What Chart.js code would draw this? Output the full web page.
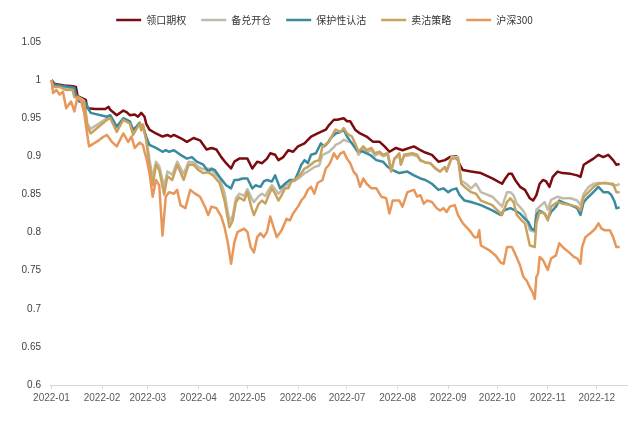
<!DOCTYPE html>
<html lang="zh-CN">
<head>
<meta charset="utf-8">
<title>期权策略净值走势</title>
<script src="https://cdn.jsdelivr.net/npm/chart.js@4.4.1/dist/chart.umd.min.js"></script>
<style>
  html, body { margin: 0; padding: 0; background: #fff; }
  #wrap { width: 637px; height: 421px; }
</style>
</head>
<body>
<div id="wrap"><canvas id="navChart" width="637" height="421"></canvas></div>
<script>
// 横轴按自然日计，第 0 天 = 首个交易日
const monthLabels = ['2022-01', '2022-02', '2022-03', '2022-04', '2022-05', '2022-06',
                     '2022-07', '2022-08', '2022-09', '2022-10', '2022-11', '2022-12'];
const monthDays = [0, 31, 59, 90, 120, 151, 181, 212, 243, 273, 304, 334];

// 各策略净值 [天, 净值]
const collar = [[0,1.000],[2,0.995],[8,0.993],[13,0.992],[15,0.991],[16,0.979],[18,0.977],[21,0.974],[22,0.963],[27,0.962],
  [33,0.962],[35,0.965],[36,0.961],[40,0.954],[44,0.960],[46,0.958],[48,0.954],[51,0.955],[53,0.952],[55,0.957],
  [57,0.952],[58,0.943],[60,0.935],[64,0.930],[68,0.926],[71,0.928],[73,0.926],[75,0.928],[79,0.924],[83,0.919],
  [87,0.924],[91,0.921],[95,0.909],[98,0.911],[101,0.909],[104,0.899],[107,0.891],[110,0.884],[112,0.893],[115,0.897],
  [120,0.897],[123,0.884],[126,0.893],[129,0.891],[132,0.897],[134,0.904],[137,0.902],[139,0.895],[142,0.899],[145,0.908],
  [148,0.906],[151,0.913],[155,0.917],[159,0.926],[163,0.930],[168,0.935],[170,0.941],[173,0.948],[175,0.948],[179,0.950],
  [181,0.946],[183,0.946],[186,0.935],[189,0.930],[193,0.926],[197,0.919],[201,0.919],[204,0.913],[207,0.906],[211,0.911],
  [215,0.908],[222,0.913],[226,0.908],[229,0.905],[233,0.902],[237,0.893],[241,0.895],[244,0.899],[248,0.900],[250,0.889],
  [252,0.882],[257,0.880],[263,0.878],[270,0.871],[276,0.864],[278,0.871],[280,0.877],[282,0.877],[284,0.869],[287,0.860],
  [290,0.856],[293,0.845],[295,0.842],[297,0.849],[299,0.864],[301,0.869],[303,0.867],[305,0.860],[307,0.873],[310,0.880],
  [313,0.878],[318,0.877],[322,0.875],[324,0.873],[326,0.889],[329,0.893],[332,0.897],[335,0.902],[338,0.899],[341,0.902],
  [344,0.895],[346,0.889],[348,0.890]];

const coveredCall = [[0,1.000],[1,0.993],[5,0.992],[9,0.989],[13,0.988],[14,0.980],[18,0.976],[20,0.973],[22,0.943],[24,0.936],
  [34,0.950],[36,0.951],[40,0.936],[44,0.949],[48,0.944],[50,0.932],[54,0.944],[55,0.937],[56,0.942],[58,0.924],
  [60,0.896],[62,0.872],[64,0.893],[66,0.887],[69,0.860],[71,0.880],[74,0.876],[77,0.893],[79,0.885],[81,0.877],
  [84,0.893],[87,0.892],[90,0.886],[93,0.883],[96,0.884],[99,0.880],[103,0.871],[106,0.852],[109,0.815],[111,0.822],
  [113,0.845],[115,0.851],[118,0.848],[120,0.857],[123,0.843],[124,0.840],[127,0.848],[129,0.851],[131,0.848],[133,0.856],
  [135,0.862],[137,0.857],[139,0.851],[141,0.855],[143,0.862],[145,0.862],[147,0.867],[149,0.868],[152,0.872],[155,0.878],
  [157,0.880],[161,0.886],[164,0.888],[166,0.902],[170,0.906],[173,0.912],[174,0.915],[177,0.918],[179,0.922],[181,0.920],
  [184,0.918],[186,0.912],[188,0.902],[191,0.909],[193,0.905],[196,0.908],[198,0.901],[201,0.904],[203,0.900],[206,0.902],
  [208,0.882],[210,0.896],[213,0.902],[214,0.890],[216,0.900],[221,0.902],[224,0.900],[226,0.894],[229,0.892],[232,0.891],
  [235,0.885],[238,0.880],[241,0.886],[242,0.881],[245,0.899],[249,0.899],[251,0.868],[254,0.864],[257,0.858],[260,0.864],
  [263,0.853],[270,0.847],[276,0.834],[279,0.853],[281,0.853],[283,0.849],[285,0.838],[288,0.831],[290,0.825],[293,0.803],
  [296,0.801],[297,0.830],[299,0.834],[302,0.840],[304,0.830],[306,0.843],[310,0.847],[313,0.845],[318,0.845],[322,0.842],
  [324,0.836],[326,0.851],[329,0.860],[332,0.864],[335,0.865],[339,0.865],[342,0.864],[344,0.862],[346,0.862],[348,0.864]];

const protectivePut = [[0,1.000],[2,0.994],[8,0.992],[14,0.990],[15,0.981],[17,0.972],[21,0.970],[23,0.961],[24,0.957],[34,0.952],
  [36,0.954],[40,0.939],[44,0.950],[48,0.946],[50,0.935],[52,0.939],[54,0.944],[55,0.938],[56,0.939],[58,0.926],
  [60,0.915],[64,0.911],[68,0.906],[70,0.908],[72,0.906],[75,0.908],[79,0.902],[83,0.897],[86,0.899],[89,0.893],
  [93,0.889],[96,0.880],[98,0.884],[100,0.882],[103,0.873],[107,0.862],[110,0.858],[112,0.869],[114,0.869],[117,0.871],
  [120,0.871],[123,0.858],[125,0.862],[128,0.860],[130,0.867],[132,0.869],[135,0.867],[137,0.875],[140,0.858],[143,0.864],
  [146,0.869],[149,0.869],[151,0.878],[153,0.889],[155,0.895],[157,0.891],[159,0.902],[162,0.904],[165,0.917],[167,0.913],
  [169,0.917],[171,0.924],[174,0.930],[177,0.932],[179,0.935],[181,0.926],[184,0.917],[187,0.908],[191,0.906],[195,0.902],
  [199,0.895],[203,0.893],[206,0.886],[209,0.882],[213,0.878],[218,0.880],[222,0.875],[226,0.871],[229,0.869],[233,0.864],
  [237,0.856],[240,0.858],[243,0.853],[245,0.856],[248,0.858],[250,0.849],[253,0.842],[257,0.840],[263,0.836],[270,0.829],
  [275,0.823],[277,0.829],[281,0.832],[284,0.829],[287,0.825],[290,0.818],[292,0.814],[294,0.805],[296,0.803],[297,0.823],
  [299,0.829],[302,0.825],[304,0.818],[306,0.827],[309,0.834],[311,0.842],[313,0.840],[318,0.836],[322,0.832],[324,0.823],
  [326,0.840],[328,0.845],[331,0.851],[335,0.860],[338,0.853],[341,0.853],[343,0.849],[345,0.840],[346,0.832],[348,0.833]];

const shortPut = [[0,1.000],[1,0.991],[5,0.991],[9,0.987],[13,0.987],[14,0.978],[18,0.974],[20,0.971],[22,0.939],[24,0.930],
  [34,0.948],[36,0.950],[40,0.932],[44,0.948],[48,0.943],[50,0.928],[54,0.943],[55,0.934],[56,0.941],[58,0.921],
  [60,0.889],[62,0.862],[64,0.889],[66,0.882],[69,0.850],[71,0.874],[74,0.869],[77,0.889],[79,0.879],[81,0.869],
  [84,0.889],[87,0.889],[90,0.882],[93,0.878],[96,0.879],[99,0.875],[103,0.865],[106,0.842],[109,0.807],[111,0.816],
  [113,0.840],[115,0.846],[118,0.842],[120,0.853],[123,0.829],[124,0.823],[127,0.838],[129,0.842],[131,0.838],[133,0.849],
  [135,0.858],[137,0.851],[139,0.842],[141,0.849],[143,0.858],[145,0.858],[147,0.867],[149,0.869],[152,0.875],[155,0.884],
  [157,0.886],[161,0.893],[164,0.895],[166,0.913],[170,0.919],[173,0.932],[174,0.935],[177,0.932],[179,0.937],[181,0.930],
  [184,0.926],[186,0.917],[188,0.906],[191,0.913],[193,0.908],[196,0.911],[198,0.904],[201,0.906],[203,0.902],[206,0.904],
  [208,0.880],[210,0.897],[213,0.904],[214,0.889],[216,0.902],[221,0.904],[224,0.902],[226,0.895],[229,0.892],[232,0.891],
  [235,0.884],[238,0.880],[241,0.886],[242,0.880],[245,0.897],[249,0.897],[251,0.864],[254,0.858],[257,0.853],[260,0.851],
  [263,0.842],[270,0.836],[276,0.823],[279,0.840],[281,0.845],[283,0.840],[285,0.823],[288,0.816],[290,0.812],[293,0.783],
  [296,0.781],[297,0.812],[299,0.827],[302,0.825],[304,0.816],[306,0.834],[310,0.840],[313,0.838],[318,0.836],[322,0.834],
  [324,0.829],[326,0.847],[329,0.853],[332,0.860],[335,0.864],[339,0.865],[342,0.864],[344,0.864],[346,0.853],[348,0.853]];

const csi300 = [[0,1.000],[1,0.983],[3,0.987],[5,0.981],[7,0.985],[9,0.963],[12,0.972],[14,0.959],[16,0.978],[18,0.974],
  [20,0.957],[23,0.913],[26,0.917],[29,0.921],[32,0.926],[34,0.928],[37,0.919],[40,0.913],[44,0.930],[47,0.919],
  [49,0.926],[51,0.911],[54,0.918],[56,0.915],[57,0.906],[58,0.899],[60,0.878],[62,0.847],[64,0.869],[66,0.862],
  [68,0.796],[70,0.847],[72,0.853],[75,0.851],[77,0.856],[79,0.836],[82,0.832],[85,0.856],[88,0.851],[91,0.847],
  [94,0.834],[96,0.823],[98,0.834],[101,0.832],[104,0.821],[106,0.807],[108,0.787],[110,0.759],[112,0.787],[114,0.801],
  [118,0.805],[120,0.801],[122,0.781],[124,0.774],[126,0.794],[128,0.799],[130,0.794],[132,0.801],[134,0.821],[136,0.807],
  [138,0.794],[141,0.803],[144,0.818],[146,0.816],[148,0.825],[151,0.834],[153,0.842],[155,0.847],[157,0.856],[159,0.860],
  [161,0.851],[163,0.865],[166,0.869],[168,0.884],[170,0.889],[171,0.893],[173,0.904],[175,0.897],[177,0.904],[179,0.906],
  [181,0.897],[183,0.891],[185,0.880],[187,0.875],[189,0.860],[191,0.871],[193,0.864],[196,0.858],[199,0.858],[202,0.847],
  [205,0.845],[207,0.825],[209,0.842],[213,0.842],[215,0.834],[218,0.853],[222,0.856],[224,0.847],[226,0.849],[228,0.838],
  [230,0.842],[233,0.840],[236,0.832],[238,0.829],[240,0.832],[242,0.827],[244,0.834],[247,0.836],[249,0.823],[252,0.812],
  [256,0.803],[259,0.794],[261,0.794],[262,0.803],[263,0.783],[268,0.777],[272,0.770],[275,0.761],[277,0.759],[279,0.781],
  [282,0.781],[284,0.772],[287,0.757],[289,0.742],[291,0.737],[293,0.728],[295,0.720],[296,0.713],[297,0.742],[298,0.746],
  [299,0.768],[301,0.764],[304,0.751],[306,0.766],[309,0.770],[311,0.786],[313,0.781],[317,0.774],[320,0.768],[322,0.766],
  [324,0.759],[325,0.781],[327,0.794],[330,0.799],[333,0.805],[335,0.812],[337,0.805],[339,0.803],[342,0.803],[344,0.794],
  [346,0.781],[348,0.781]];

function toPoints(series) {
    return series.map(p => ({ x: p[0], y: p[1] }));
}

function line(label, series, color, order) {
    return {
        label: label,
        data: toPoints(series),
        borderColor: color,
        backgroundColor: color,
        borderWidth: 2.5,
        borderJoinStyle: 'round',
        pointRadius: 0,
        tension: 0,
        order: order
    };
}

// 图例高度固定，让绘图区顶部对齐 1.05
const legendHeight = {
    id: 'legendHeight',
    beforeInit(chart) {
        const fit = chart.legend.fit;
        chart.legend.fit = function () {
            fit.call(this);
            this.height = 42;
        };
    }
};

const axisFont = { family: '"Liberation Sans", Arial, sans-serif', size: 10 };

new Chart(document.getElementById('navChart'), {
    type: 'line',
    data: {
        datasets: [
            line('领口期权', collar, '#7a0c10', 5),
            line('备兑开仓', coveredCall, '#bfbcab', 4),
            line('保护性认沽', protectivePut, '#3a8ba0', 3),
            line('卖沽策略', shortPut, '#c9a35e', 2),
            line('沪深300', csi300, '#e8975b', 1)
        ]
    },
    options: {
        responsive: false,
        animation: false,
        layout: { padding: { left: 22, right: 10, top: 0, bottom: 0 } },
        plugins: {
            legend: {
                position: 'top',
                labels: {
                    usePointStyle: true,
                    pointStyle: 'line',
                    pointStyleWidth: 25,
                    padding: 15,
                    color: '#333',
                    font: { family: '"Noto Sans CJK SC", sans-serif', size: 10 },
                    sort: (a, b) => a.datasetIndex - b.datasetIndex
                }
            },
            tooltip: { enabled: false }
        },
        scales: {
            x: {
                type: 'linear',
                min: -0.9,
                max: 352.5,
                afterBuildTicks(scale) {
                    scale.ticks = monthDays.map(d => ({ value: d }));
                },
                afterFit(scale) { scale.height = 36; },
                ticks: {
                    autoSkip: false,
                    maxRotation: 0,
                    padding: 3,
                    color: '#595959',
                    font: axisFont,
                    callback: v => monthLabels[monthDays.indexOf(v)]
                },
                grid: { display: true, drawOnChartArea: false, drawTicks: true, tickLength: 4, color: '#d9d9d9' },
                border: { display: true, color: '#d9d9d9', width: 1 }
            },
            y: {
                min: 0.6,
                max: 1.05,
                afterFit(scale) { scale.width = 28; },
                ticks: {
                    stepSize: 0.05,
                    padding: 9,
                    color: '#404040',
                    font: axisFont,
                    callback: v => String(+v.toFixed(2))
                },
                grid: { display: false, drawTicks: false },
                border: { display: false }
            }
        }
    },
    plugins: [legendHeight]
});
</script>
</body>
</html>
